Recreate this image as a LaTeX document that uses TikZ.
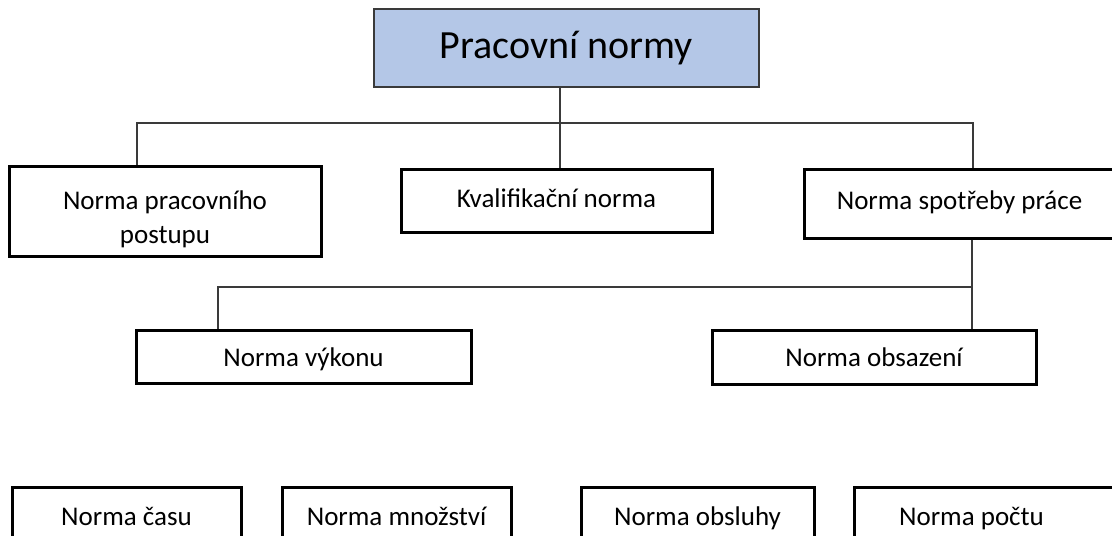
\documentclass[tikz,border=0pt]{standalone}
\usepackage{fontspec}
\setmainfont{Carlito}
\definecolor{headfill}{HTML}{B4C7E7}
\definecolor{linegray}{HTML}{3A3A3A}
\begin{document}
\begin{tikzpicture}[x=0.5pt,y=-0.5pt,
  % tb=<o>: baseline sits <o> below the node centre
  tb/.style={text height=8pt+#1, text depth=8pt-#1},
  box/.style={draw=black, line width=1.5pt, fill=white, rectangle,
    inner sep=0pt, font=\fontsize{13.5}{16.5}\selectfont, align=center},
  headbox/.style={draw=linegray, line width=0.9pt, fill=headfill, rectangle,
    inner sep=0pt, font=\fontsize{20}{24}\selectfont},
  wire/.style={draw=linegray, line width=0.6pt}]
\useasboundingbox (0,0) rectangle (1112,535);
\clip (0,0) rectangle (1112,535);

% top level
\node[headbox, tb=5.1pt, minimum width=192.5pt, minimum height=39pt] (norms) at (566.5,48) {Pracovní normy};

% second level
\node[box, minimum width=156pt, minimum height=45pt] (postup) at (165,211)
  {\rule{0pt}{17.5pt}Norma pracovního\\[0.5pt]postupu};
\node[box, tb=3.5pt, minimum width=155.5pt, minimum height=31.5pt] (kval) at (556.5,200.5) {Kvalifikační norma};
\node[box, tb=2.8pt, minimum width=155.5pt, minimum height=34.5pt] (spotreba) at (959.5,203.5) {Norma spotřeby práce};

% third level
\node[box, tb=5pt, minimum width=167.5pt, minimum height=26.5pt] (vykon) at (303.5,356.5) {Norma výkonu};
\node[box, tb=4.9pt, minimum width=162pt, minimum height=27pt] (obsazeni) at (874,357) {Norma obsazení};

% bottom row
\node[box, tb=3.25pt, minimum width=114.5pt, minimum height=31.5pt] (cas) at (126.5,518.5) {Norma času};
\node[box, tb=3.25pt, minimum width=114.5pt, minimum height=31.5pt] (mnozstvi) at (396.5,518.5) {Norma množství};
\node[box, tb=3.25pt, minimum width=116.5pt, minimum height=31.5pt] (obsluha) at (697.5,518.5) {Norma obsluhy};
\node[box, tb=3.25pt, anchor=west, minimum height=31.5pt] (pocet) at (853,518.5)
  {\makebox[117pt]{Norma počtu}\hspace*{16.5pt}};

% bus lines
\coordinate (busA) at (560,123);
\coordinate (busAleft) at (137,123);
\coordinate (busAright) at (973,123);
\coordinate (busB) at (972,287);
\coordinate (busBleft) at (218,287);

\draw[wire] (norms.south -| busA) -- (kval.north -| busA);
\draw[wire] (postup.north -| busAleft) |- (busAright) -- (spotreba.north -| busAright);
\draw[wire] (spotreba.south -| busB) -- (obsazeni.north -| busB);
\draw[wire] (vykon.north -| busBleft) |- (busB);
\end{tikzpicture}
\end{document}
